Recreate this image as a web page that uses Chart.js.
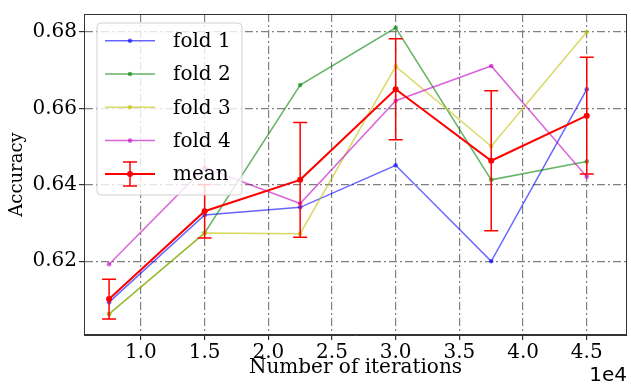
<!DOCTYPE html>
<html><head><meta charset="utf-8">
<script src="https://cdn.jsdelivr.net/npm/chart.js@4"></script>
<style>html,body{margin:0;padding:0;background:#fff;} canvas{display:block;}</style>
</head><body>
<canvas id="c" width="631" height="391"></canvas>
<script>
// ---- data ----
const iterations = [7500, 15000, 22500, 30000, 37500, 45000];
const fold1 = [0.6093, 0.6321, 0.6341, 0.6451, 0.6200, 0.6650];
const fold2 = [0.6062, 0.6274, 0.6661, 0.6811, 0.6413, 0.6461];
const fold3 = [0.6062, 0.6274, 0.6272, 0.6710, 0.6501, 0.6800];
const fold4 = [0.6192, 0.6445, 0.6351, 0.6620, 0.6711, 0.6421];
const meanAcc = [0.6101, 0.6331, 0.6413, 0.6650, 0.6463, 0.6581];
const meanErr = [0.0052, 0.0070, 0.0150, 0.0132, 0.0183, 0.0153];
const seriesLabels = ['fold 1', 'fold 2', 'fold 3', 'fold 4', 'mean'];
const xTickValues = [10000, 15000, 20000, 25000, 30000, 35000, 40000, 45000];
const yTickValues = [0.62, 0.64, 0.66, 0.68];
const xAxisTitle = 'Number of iterations';
const yAxisTitle = 'Accuracy';
const xOffsetText = '1e4';

const SERIF = "'DejaVu Serif', serif";
const foldColors = ['rgba(0,0,255,0.6)', 'rgba(0,128,0,0.6)', 'rgba(191,191,0,0.6)', 'rgba(191,0,191,0.6)'];
const meanColor = '#ff0000';
const folds = [fold1, fold2, fold3, fold4];
const toPts = arr => iterations.map((x, i) => ({x: x, y: arr[i]}));

const datasets = folds.map((f, i) => ({
  label: seriesLabels[i], data: toPts(f),
  borderColor: foldColors[i], backgroundColor: foldColors[i],
  pointBackgroundColor: foldColors[i], pointBorderWidth: 0,
  borderWidth: 1.5, pointRadius: 2.3, tension: 0, order: 5 - i
}));
datasets.push({
  label: seriesLabels[4], data: toPts(meanAcc),
  borderColor: meanColor, backgroundColor: meanColor,
  pointBackgroundColor: meanColor, pointBorderWidth: 0,
  borderWidth: 2, pointRadius: 3, tension: 0, order: 0
});

const drawErr = (ctx, px, top, bot, cap) => {
  ctx.beginPath();
  ctx.moveTo(px, top); ctx.lineTo(px, bot);
  ctx.moveTo(px - cap, top); ctx.lineTo(px + cap, top);
  ctx.moveTo(px - cap, bot); ctx.lineTo(px + cap, bot);
  ctx.stroke();
};

const extras = {
  id: 'extras',
  afterDatasetsDraw(chart) {
    const {ctx, scales: {x, y}} = chart;
    ctx.save();
    ctx.strokeStyle = meanColor; ctx.lineWidth = 1.5;
    iterations.forEach((it, i) => {
      const px = x.getPixelForValue(it);
      drawErr(ctx, px, y.getPixelForValue(meanAcc[i] + meanErr[i]), y.getPixelForValue(meanAcc[i] - meanErr[i]), 7);
    });
    ctx.restore();
  },
  afterDraw(chart) {
    const {ctx, chartArea: a} = chart;
    ctx.save();
    // spines
    ctx.strokeStyle = '#333'; ctx.lineWidth = 1;
    ctx.strokeRect(Math.round(a.left) + 0.5, Math.round(a.top) + 0.5, Math.round(a.right - a.left) - 1, Math.round(a.bottom - a.top) - 1);
    // offset text
    ctx.fillStyle = '#000'; ctx.font = "20px 'DejaVu Sans'";
    ctx.textAlign = 'right'; ctx.textBaseline = 'middle';
    ctx.fillText(xOffsetText, a.right, 376);
    // legend
    const bx = 97, by = 23, bw = 145, bh = 172, r = 4;
    ctx.beginPath();
    ctx.moveTo(bx + r, by); ctx.arcTo(bx + bw, by, bx + bw, by + bh, r);
    ctx.arcTo(bx + bw, by + bh, bx, by + bh, r); ctx.arcTo(bx, by + bh, bx, by, r);
    ctx.arcTo(bx, by, bx + bw, by, r); ctx.closePath();
    ctx.fillStyle = 'rgba(255,255,255,0.8)'; ctx.fill();
    ctx.strokeStyle = 'rgba(204,204,204,0.9)'; ctx.lineWidth = 1; ctx.stroke();
    chart.data.datasets.forEach((ds, i) => {
      const ry = 40.7 + i * 33.3;
      ctx.strokeStyle = ds.borderColor; ctx.lineWidth = ds.borderWidth;
      ctx.beginPath(); ctx.moveTo(105, ry); ctx.lineTo(155, ry); ctx.stroke();
      ctx.fillStyle = ds.borderColor;
      ctx.beginPath(); ctx.arc(130, ry, ds.pointRadius, 0, Math.PI * 2); ctx.fill();
      if (i === 4) { ctx.lineWidth = 1.5; drawErr(ctx, 130, ry - 12, ry + 12, 7); }
      ctx.fillStyle = '#000'; ctx.font = '20px ' + SERIF;
      ctx.textAlign = 'left'; ctx.textBaseline = 'middle';
      ctx.fillText(ds.label, 173, ry + 1);
    });
    ctx.restore();
  }
};

const gridOpts = {color: '#808080', lineWidth: 1.2, tickLength: 5, tickColor: '#333'};
const borderOpts = {display: true, color: '#333', width: 1, dash: [8, 3, 2, 3]};

new Chart(document.getElementById('c'), {
  type: 'line',
  data: {datasets: datasets},
  options: {
    responsive: false, animation: false, devicePixelRatio: 1,
    layout: {padding: {top: 11, right: 3, left: 0, bottom: 0}},
    plugins: {legend: {display: false}, tooltip: {enabled: false}},
    scales: {
      x: {
        type: 'linear', min: 5530, max: 48160,
        afterBuildTicks: s => { s.ticks = xTickValues.map(v => ({value: v})); },
        afterFit: s => { s.height = 56; },
        ticks: {callback: v => (v / 1e4).toFixed(1), font: {family: SERIF, size: 20}, color: '#000', maxRotation: 0, autoSkip: false, padding: 1},
        grid: gridOpts, border: borderOpts,
        title: {display: true, text: xAxisTitle, font: {family: SERIF, size: 20}, color: '#000', padding: {top: 0, bottom: 11}}
      },
      y: {
        type: 'linear', min: 0.6007, max: 0.6847,
        afterBuildTicks: s => { s.ticks = yTickValues.map(v => ({value: v})); },
        afterFit: s => { s.width = 84; },
        ticks: {callback: v => v.toFixed(2), font: {family: SERIF, size: 20}, color: '#000', autoSkip: false, padding: 2},
        grid: gridOpts, border: borderOpts,
        title: {display: true, text: yAxisTitle, font: {family: SERIF, size: 18}, color: '#000', padding: {top: 7, bottom: 0}}
      }
    }
  },
  plugins: [extras]
});
</script>
</body></html>
